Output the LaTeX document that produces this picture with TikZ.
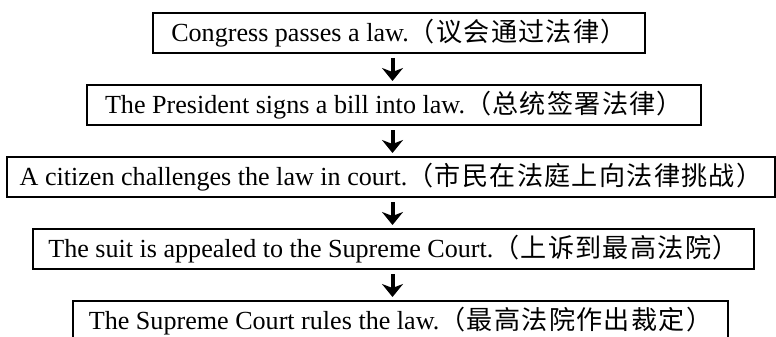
\documentclass[tikz,border=0pt]{standalone}
\usepackage{fontspec}
\setmainfont{Liberation Serif}
\newfontfamily\cjk{Noto Sans CJK SC}[LetterSpace=5]
\usetikzlibrary{arrows.meta, positioning}

\begin{document}
\begin{tikzpicture}[
        x=1pt, y=-1pt,
        law_box/.style={
            draw, rectangle, line width=2pt, minimum height=40pt,
            inner xsep=0pt, inner ysep=0pt, align=center,
            font=\fontsize{26.1}{30}\selectfont
        },
        flow_arrow/.style={
            line width=4pt, -{Stealth[width=21pt, length=13pt, inset=4pt]},
            shorten <=4pt, shorten >=3pt
        }
    ]
    \useasboundingbox (0,0) rectangle (776,337);

    % Steps (Top to Bottom)
    \node[law_box, minimum width=492pt] (congress) at (399,33) {Congress passes a law.{\cjk（议会通过法律）}};
    \node[law_box, minimum width=614pt] (president) at (394,105) {The President signs a bill into law.{\cjk（总统签署法律）}};
    \node[law_box, minimum width=768pt] (citizen) at (391,177) {A citizen challenges the law in court.{\cjk（市民在法庭上向法律挑战）}};
    \node[law_box, minimum width=721pt] (appeal) at (393.5,249) {The suit is appealed to the Supreme Court.{\cjk（上诉到最高法院）}};
    \node[law_box, minimum width=655pt] (ruling) at (400.5,321) {The Supreme Court rules the law.{\cjk（最高法院作出裁定）}};

    % Arrows
    \coordinate (axis) at (392.5,0);
    \draw[flow_arrow] (congress.south -| axis) -- (president.north -| axis);
    \draw[flow_arrow] (president.south -| axis) -- (citizen.north -| axis);
    \draw[flow_arrow] (citizen.south -| axis) -- (appeal.north -| axis);
    \draw[flow_arrow] (appeal.south -| axis) -- (ruling.north -| axis);

\end{tikzpicture}
\end{document}
